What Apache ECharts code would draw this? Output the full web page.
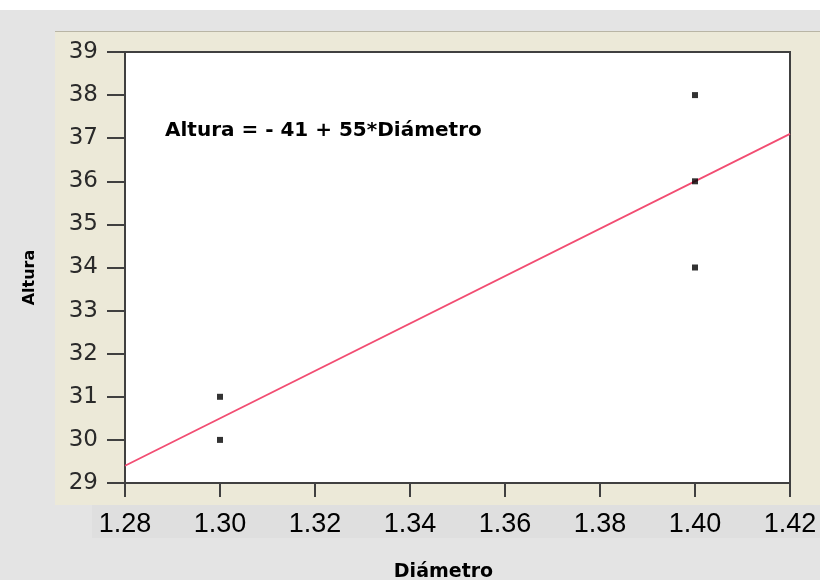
<!DOCTYPE html>
<html>
<head>
<meta charset="utf-8">
<script src="https://cdn.jsdelivr.net/npm/echarts@6/dist/echarts.min.js"></script>
<style>html,body{margin:0;padding:0;background:#e4e4e4;}#c{width:820px;height:580px;}</style>
</head>
<body>
<div id="c"></div>
<script>
// Data
var diametro = [1.30, 1.30, 1.40, 1.40, 1.40];
var altura   = [31, 30, 38, 36, 34];
var fitX = [1.28, 1.42];
var fitY = [29.4, 37.1];
var equationText = 'Altura = - 41 + 55*Diámetro';
var xName = 'Diámetro';
var yName = 'Altura';
var xMin = 1.28, xMax = 1.42, xStep = 0.02;
var yMin = 29, yMax = 39, yStep = 1;

var pts = diametro.map(function (d, i) { return [d, altura[i]]; });
var fit = fitX.map(function (d, i) { return [d, fitY[i]]; });

var chart = echarts.init(document.getElementById('c'), null, {renderer: 'canvas'});
chart.setOption({
  backgroundColor: '#e4e4e4',
  animation: false,
  graphic: [
    {type: 'rect', z: -100, silent: true, shape: {x: 0, y: 0, width: 820, height: 10}, style: {fill: '#ffffff'}},
    {type: 'rect', z: -100, silent: true, shape: {x: 55, y: 31, width: 765, height: 474}, style: {fill: '#ece9d8'}},
    {type: 'rect', z: -99, silent: true, shape: {x: 55, y: 31, width: 765, height: 1}, style: {fill: '#b9b5a5'}},
    {type: 'rect', z: -100, silent: true, shape: {x: 92, y: 505, width: 728, height: 33}, style: {fill: '#dfdfdf'}}
  ],
  title: {
    text: equationText,
    left: 165,
    top: 121,
    padding: 0,
    textStyle: {fontFamily: 'DejaVu Sans', fontWeight: 'bold', fontSize: 20, color: '#000'}
  },
  grid: {
    left: 125, top: 52, right: 30, bottom: 97,
    outerBoundsMode: 'none', containLabel: false,
    show: true, backgroundColor: '#ffffff', borderColor: '#404040', borderWidth: 2
  },
  xAxis: {
    type: 'value', min: xMin, max: xMax, interval: xStep,
    name: xName, nameLocation: 'middle', nameGap: 80,
    nameTextStyle: {fontFamily: 'DejaVu Sans', fontWeight: 'bold', fontSize: 19, color: '#000', padding: [0, 28, 0, 0]},
    axisLine: {show: true, onZero: false, lineStyle: {color: '#404040', width: 2}},
    axisTick: {show: true, inside: false, length: 14, lineStyle: {color: '#404040', width: 2}},
    axisLabel: {margin: 28, fontFamily: 'Liberation Sans', fontSize: 27, color: '#000',
      formatter: function (v) { return v.toFixed(2); }},
    splitLine: {show: false}
  },
  yAxis: {
    type: 'value', min: yMin, max: yMax, interval: yStep,
    name: yName, nameLocation: 'middle', nameGap: 87, nameRotate: 90,
    nameTextStyle: {fontFamily: 'DejaVu Sans', fontWeight: 'bold', fontSize: 16, color: '#000', padding: [0, 20, 0, 0]},
    axisLine: {show: true, onZero: false, lineStyle: {color: '#404040', width: 2}},
    axisTick: {show: true, inside: false, length: 18, lineStyle: {color: '#404040', width: 2}},
    axisLabel: {margin: 27, fontFamily: 'DejaVu Sans', fontSize: 23, color: '#2a2a2a'},
    splitLine: {show: false}
  },
  series: [
    {
      type: 'line', data: fit, symbol: 'none', silent: true,
      lineStyle: {color: '#f24d72', width: 1.8}, z: 2
    },
    {
      type: 'scatter', data: pts, symbol: 'rect', symbolSize: 6,
      itemStyle: {color: '#000'}, z: 3
    }
  ]
});
</script>
</body>
</html>
